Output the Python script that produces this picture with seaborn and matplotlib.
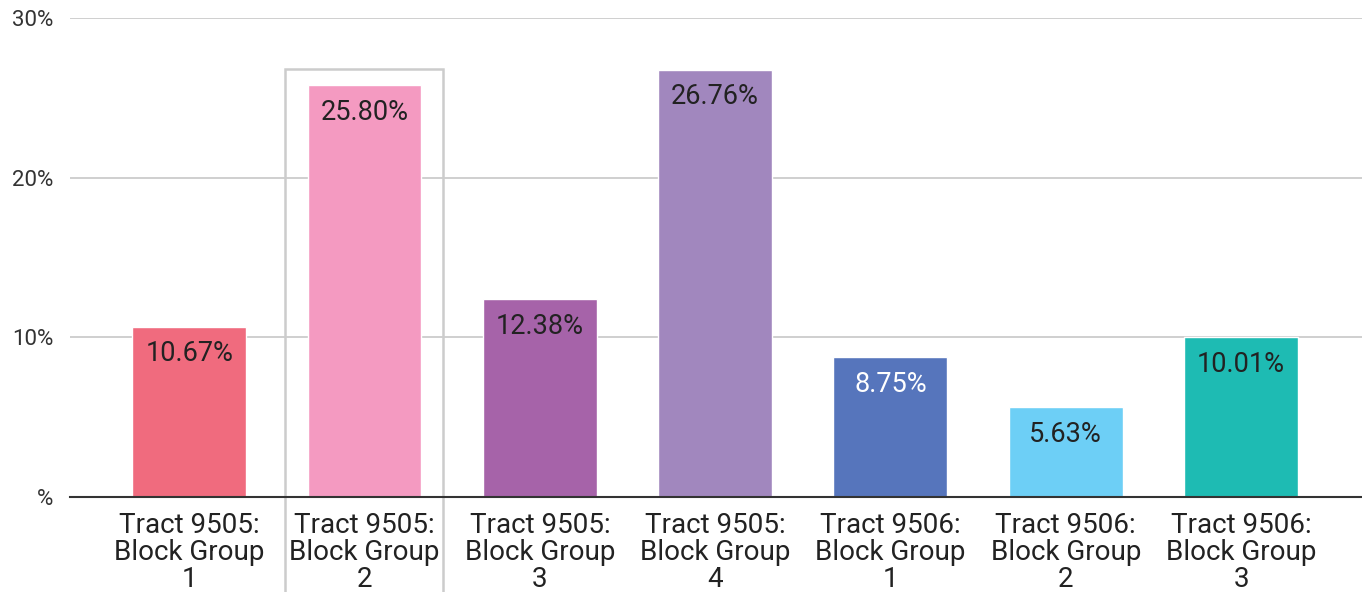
import pandas as pd
import numpy as np
import matplotlib
matplotlib.use("Agg")
import matplotlib.pyplot as plt
import seaborn as sns
from matplotlib.patches import Rectangle

categories = ["Tract 9505:\nBlock Group\n1", "Tract 9505:\nBlock Group\n2",
              "Tract 9505:\nBlock Group\n3", "Tract 9505:\nBlock Group\n4",
              "Tract 9506:\nBlock Group\n1", "Tract 9506:\nBlock Group\n2",
              "Tract 9506:\nBlock Group\n3"]
values = [10.67, 25.80, 12.38, 26.76, 8.75, 5.63, 10.01]
colors = ["#F06B7E", "#F49AC1", "#A663A9", "#A187BE", "#5675BC", "#6DCFF6", "#1EBBB3"]
label_colors = ["#222222", "#222222", "#222222", "#222222", "#ffffff", "#222222", "#222222"]
yticks = [0, 10, 20, 30]
ytick_labels = ["%", "10%", "20%", "30%"]

sns.set_style("white")
plt.rcParams['font.family'] = ['Roboto', 'DejaVu Sans']

df = pd.DataFrame({"cat": categories, "val": values})

fig = plt.figure(figsize=(13.62, 5.92), dpi=100)
ax = fig.add_axes([70 / 1362, 1 - 497 / 592, 1 - 70 / 1362, (497 - 18) / 592])

sns.barplot(data=df, x="cat", y="val", hue="cat", palette=colors, legend=False,
            width=0.65, saturation=1, ax=ax)

ax.set_ylim(0, 30)
ax.set_xlim(-0.68, 6.69)
ax.set_yticks(yticks)
ax.set_yticklabels(ytick_labels, fontsize=16, color="#333333")
ax.tick_params(axis="y", length=0, pad=12)
ax.tick_params(axis="x", length=0, pad=11, labelsize=20, labelcolor="#222222")
for t in ax.get_xticklabels():
    t.set_linespacing(1.0)
ax.set_xlabel("")
ax.set_ylabel("")
ax.yaxis.grid(True, color="#cccccc", linewidth=1.3)
ax.set_axisbelow(True)
for s in ["top", "right", "left"]:
    ax.spines[s].set_visible(False)
ax.spines["bottom"].set_color("#333333")
ax.spines["bottom"].set_linewidth(1.5)

for i, p in enumerate(ax.patches):
    ax.text(p.get_x() + p.get_width() / 2., p.get_height() - 0.85, '%.2f%%' % values[i],
            fontsize=19.5, color=label_colors[i], ha='center', va='top')

# highlight box around the selected column
box = Rectangle((0.545, -8), 0.9, 8 + 26.8, fill=False, edgecolor="#cccccc",
                linewidth=1.8, clip_on=False, zorder=0.5)
ax.add_patch(box)

plt.savefig("out.png", dpi=100)
